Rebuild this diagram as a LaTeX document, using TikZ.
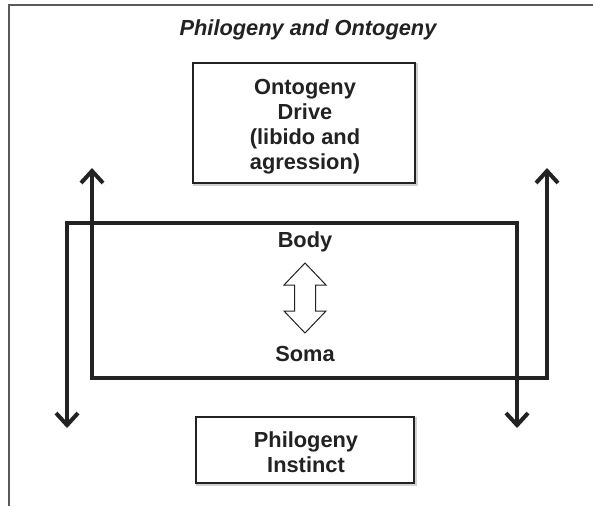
\documentclass[tikz,border=0pt]{standalone}
\usepackage{fontspec}
\setmainfont{Liberation Sans}
\usetikzlibrary{arrows.meta}
\definecolor{ink}{HTML}{222222}
\definecolor{framegray}{HTML}{5A5A5A}
\tikzset{
  txt/.style={font=\fontsize{21.8}{25}\selectfont\bfseries, text=ink, align=center, inner sep=0pt},
  boxnode/.style={draw=ink, line width=2.8pt, fill=white, inner sep=0pt,
    preaction={draw=gray!35, line width=2.8pt, transform canvas={shift={(1.5pt,-1.5pt)}}}},
  ulink/.style={draw=ink, line width=4pt, {Straight Barb[length=12pt,width=22pt]}-{Straight Barb[length=12pt,width=22pt]},
    preaction={draw=gray!35, transform canvas={shift={(1.5pt,-1.5pt)}}}},
  hollow/.style={draw=ink, line width=1pt, fill=white, line join=miter},
}
\begin{document}
\begin{tikzpicture}[x=1pt,y=-1pt]
\useasboundingbox (0,0) rectangle (593,506);
% frame
\draw[framegray, line width=2pt] (8.5,506) -- (8.5,4.5) -- (593,4.5);
% title
\node[font=\fontsize{21.8}{25}\selectfont\bfseries\itshape, text=ink, inner sep=0pt] (title) at (308,30) {Philogeny and Ontogeny};
% boxes
\node[boxnode, minimum width=222pt, minimum height=120pt] (onto) at (304,123) {};
\node[txt] (ontotext) at (305,127) {Ontogeny\\Drive\\(libido and\\agression)};
\node[boxnode, minimum width=218pt, minimum height=66pt] (phil) at (305,450) {};
\node[txt] (philtext) at (306,452) {Philogeny\\Instinct};
% U connectors
\coordinate (a1) at (67,428);
\coordinate (a2) at (67,223);
\coordinate (a3) at (517,223);
\coordinate (a4) at (517,428);
\coordinate (b1) at (92,168);
\coordinate (b2) at (92,378);
\coordinate (b3) at (547,378);
\coordinate (b4) at (547,168);
\draw[ulink] (a1) -- (a2) -- (a3) -- (a4);
\draw[ulink] (b1) -- (b2) -- (b3) -- (b4);
% body / soma
\node[txt] (body) at (305,242) {Body};
\node[txt] (soma) at (305,354) {Soma};
\draw[hollow] (305,263) -- (326,285) -- (315.5,285) -- (315.5,311) -- (326,311) -- (305,333)
  -- (284,311) -- (294.5,311) -- (294.5,285) -- (284,285) -- cycle;
\end{tikzpicture}
\end{document}
